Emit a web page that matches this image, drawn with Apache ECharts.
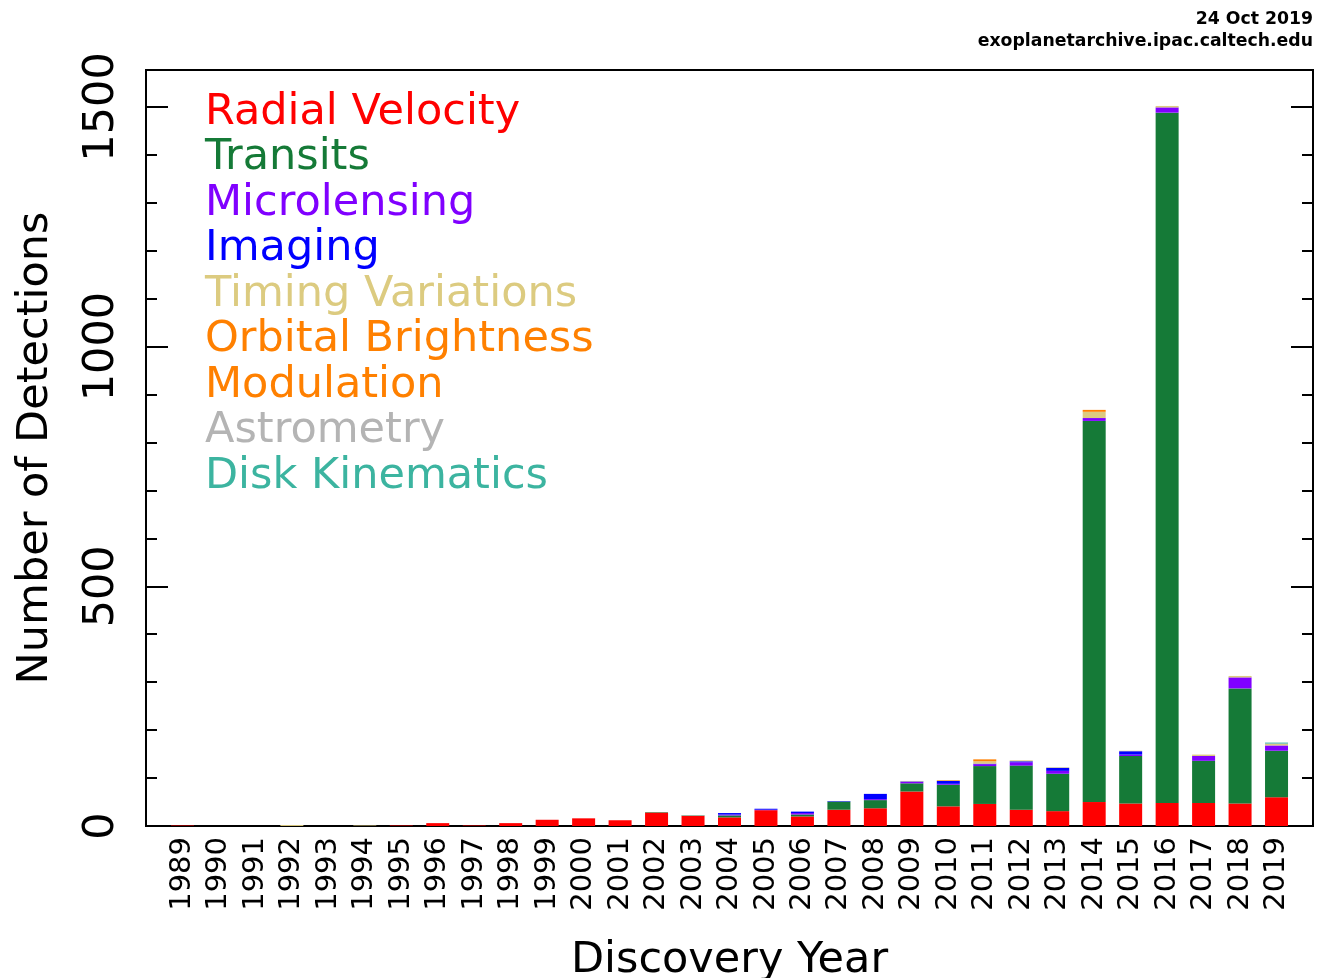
<!DOCTYPE html>
<html>
<head>
<meta charset="utf-8">
<script src="https://cdn.jsdelivr.net/npm/echarts@6/dist/echarts.min.js"></script>
<style>
html,body{margin:0;padding:0;background:#fff;}
#chart{width:1323px;height:978px;}
</style>
</head>
<body>
<div id="chart"></div>
<script>
// Discovery years
const years = [1989,1990,1991,1992,1993,1994,1995,1996,1997,1998,1999,2000,2001,2002,2003,2004,2005,2006,2007,2008,2009,2010,2011,2012,2013,2014,2015,2016,2017,2018,2019];
// Detections per year, by method
const radialVelocity     = [1,0,0,0,0,0,1,6,1,6,13,16,12,28,21,18,33,20,34,37,72,41,46,34,31,50,47,48,48,47,60];
const transits           = [0,0,0,0,0,0,0,0,0,0,0,0,0,1,1,4,0,4,17,17,17,45,79,92,78,795,99,1440,88,240,97];
const microlensing       = [0,0,0,0,0,0,0,0,0,0,0,0,0,0,0,2,1,3,0,2,3,2,4,7,6,6,3,11,10,23,11];
const imaging            = [0,0,0,0,0,0,0,0,0,0,0,0,0,0,0,3,2,3,1,11,1,6,1,2,6,0,7,0,0,0,0];
const timingVariations   = [0,0,0,2,0,1,0,0,0,0,0,0,0,0,0,0,0,0,0,0,1,1,5,2,1,13,1,3,3,3,3];
const orbitalBrightness  = [0,0,0,0,0,0,0,0,0,0,0,0,0,0,0,0,0,0,0,0,0,1,4,0,0,4,0,0,0,0,0];
const astrometry         = [0,0,0,0,0,0,0,0,0,0,0,0,0,0,1,0,0,0,0,0,0,0,0,0,1,0,0,0,0,0,1];
const diskKinematics     = [0,0,0,0,0,0,0,0,0,0,0,0,0,0,0,0,0,0,0,0,0,0,0,0,0,0,0,0,0,0,2];
// Y tick labels shown
const yTickLabels = [0, 500, 1000, 1500];

const methods = [
  {name: 'Radial Velocity', data: radialVelocity, color: '#ff0000'},
  {name: 'Transits', data: transits, color: '#157a37'},
  {name: 'Microlensing', data: microlensing, color: '#8000ff'},
  {name: 'Imaging', data: imaging, color: '#0000ff'},
  {name: 'Timing Variations', data: timingVariations, color: '#dccb80'},
  {name: 'Orbital Brightness Modulation', data: orbitalBrightness, color: '#ff8000'},
  {name: 'Astrometry', data: astrometry, color: '#b4b4b4'},
  {name: 'Disk Kinematics', data: diskKinematics, color: '#3cb4a0'}
];

const FONT = 'DejaVu Sans';
const YMAX = 1577;

// axis runs from one year before the first to one year after the last
const axisCats = [String(years[0] - 1)].concat(years.map(String), [String(years[years.length - 1] + 1)]);

const chart = echarts.init(document.getElementById('chart'), null, {renderer: 'canvas'});

function yAxisDef(position, interval, tickLen, withLabels) {
  return {
    type: 'value', position: position, min: 0, max: YMAX, interval: interval,
    axisLine: {show: false},
    splitLine: {show: false},
    axisTick: {show: true, inside: true, length: tickLen, lineStyle: {color: '#000', width: 2}},
    axisLabel: withLabels ? {
      show: true, rotate: 90, margin: 23, fontSize: 43, fontFamily: FONT, color: '#000',
      formatter: function (v) { return yTickLabels.indexOf(v) >= 0 ? String(v) : ''; }
    } : {show: false}
  };
}

const yAxes = [
  Object.assign(yAxisDef('left', 500, 22, true), {
    name: 'Number of Detections', nameLocation: 'middle', nameGap: 89,
    nameTextStyle: {fontSize: 43, fontFamily: FONT, color: '#000'}
  }),
  yAxisDef('left', 100, 11, false),
  yAxisDef('right', 500, 22, false),
  yAxisDef('right', 100, 11, false)
];

const titleStyle = {fontSize: 17.3, fontWeight: 'bold', fontFamily: FONT, color: '#000'};

const option = {
  backgroundColor: '#fff',
  animation: false,
  title: [
    {text: '24 Oct 2019', right: 10, top: 11, padding: 0, textStyle: titleStyle},
    {text: 'exoplanetarchive.ipac.caltech.edu', right: 10, top: 33, padding: 0, textStyle: titleStyle}
  ],
  legend: {
    orient: 'vertical', left: 200, top: 90, padding: 0, itemGap: 0,
    icon: 'none', itemWidth: 0, itemHeight: 10,
    selectedMode: false,
    formatter: function (n) { return n.replace('Brightness ', 'Brightness\n'); },
    textStyle: {fontSize: 43, lineHeight: 45.5, fontFamily: FONT},
    data: methods.map(m => ({name: m.name, textStyle: {color: m.color}}))
  },
  grid: {left: 146, right: 10, top: 70, bottom: 152, containLabel: false, outerBoundsMode: 'none',
         show: true, borderColor: '#000', borderWidth: 2, backgroundColor: 'transparent'},
  xAxis: {
    type: 'category', data: axisCats, boundaryGap: false,
    name: 'Discovery Year', nameLocation: 'middle', nameGap: 113,
    nameTextStyle: {fontSize: 43, fontFamily: FONT, color: '#000'},
    axisLine: {show: false}, axisTick: {show: false}, splitLine: {show: false},
    axisLabel: {
      interval: 0, rotate: 90, margin: 11, fontSize: 29, fontFamily: FONT, color: '#000',
      formatter: function (v) { return years.indexOf(Number(v)) >= 0 ? v : ''; }
    }
  },
  yAxis: yAxes,
  series: methods.map(m => ({
    name: m.name, type: 'bar', stack: 'total', barWidth: 23,
    xAxisIndex: 0, yAxisIndex: 0,
    itemStyle: {color: m.color},
    emphasis: {disabled: true},
    data: [null].concat(m.data, [null])
  }))
};
chart.setOption(option);
</script>
</body>
</html>
